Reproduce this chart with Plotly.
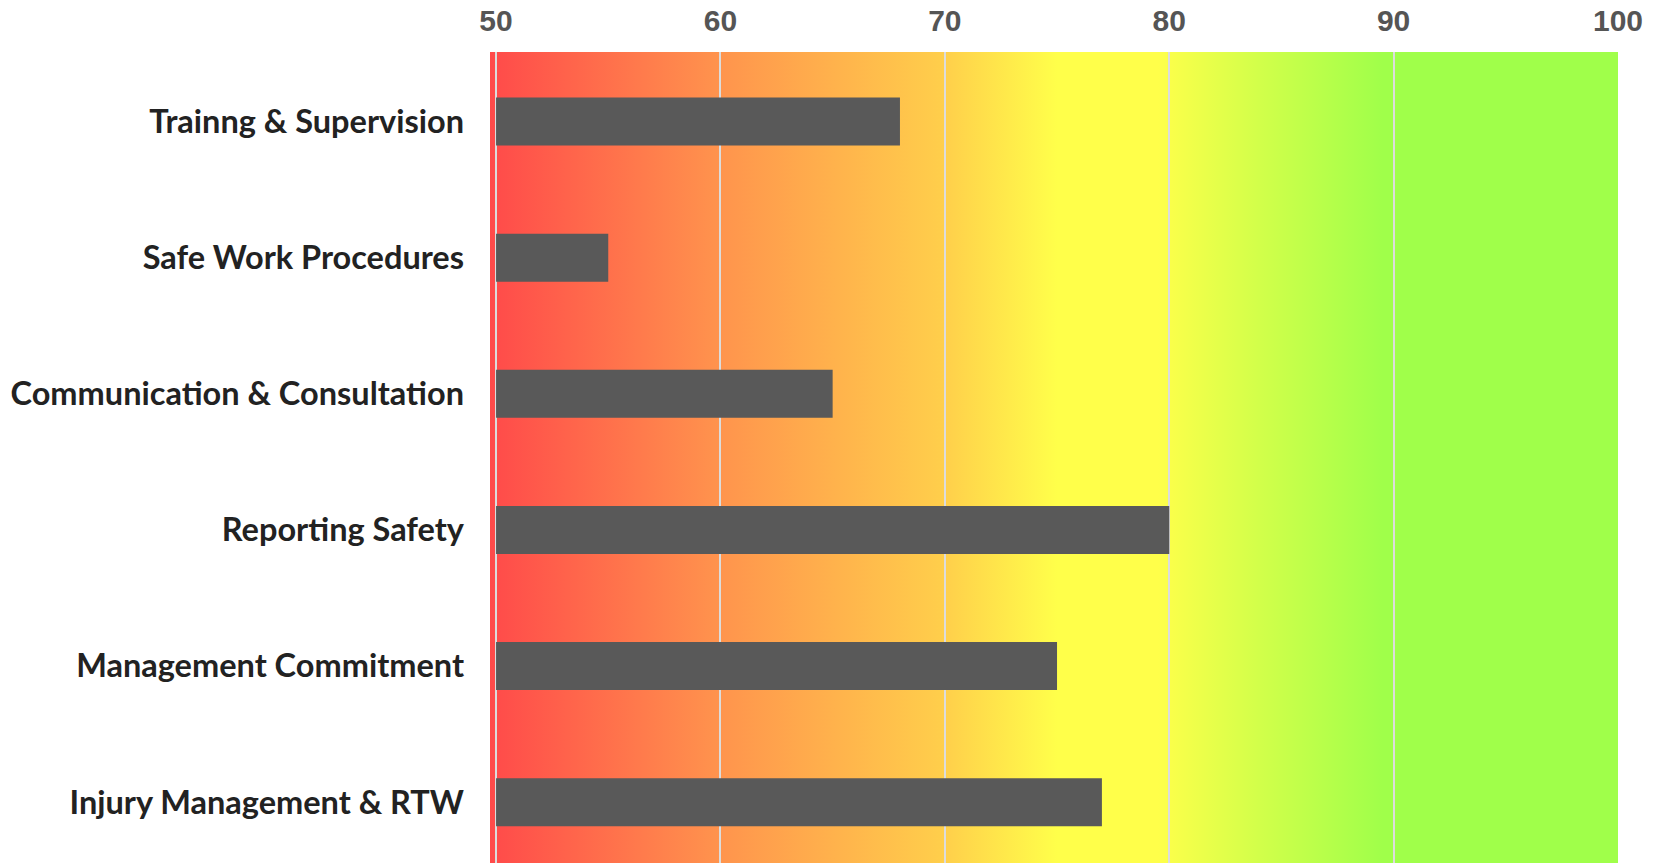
import base64
import plotly.graph_objects as go

# Scores per safety area (top to bottom)
categories = [
    "Trainng & Supervision",
    "Safe Work Procedures",
    "Communication & Consultation",
    "Reporting Safety",
    "Management Commitment",
    "Injury Management & RTW",
]
scores = [68, 55, 65, 80, 75, 77]

axis_min = 49.73
axis_max = 100
bar_base = 50
tick_values = [50, 60, 70, 80, 90, 100]

# Red -> yellow -> green band behind the bars (value, colour)
band_stops = [
    (49.73, "#ff4a4a"),
    (60.0, "#ff944d"),
    (70.0, "#ffcf4b"),
    (75.0, "#ffff4a"),
    (79.5, "#ffff4a"),
    (84.0, "#d2ff4a"),
    (89.5, "#a0ff4a"),
    (100.0, "#a0ff4a"),
]

span = axis_max - axis_min
stops_svg = "".join(
    f'<stop offset="{(v - axis_min) / span:.4f}" stop-color="{c}"/>' for v, c in band_stops
)
svg = (
    '<svg xmlns="http://www.w3.org/2000/svg" width="1000" height="100" preserveAspectRatio="none">'
    '<defs><linearGradient id="g" x1="0" y1="0" x2="1" y2="0">'
    f"{stops_svg}</linearGradient></defs>"
    '<rect x="0" y="0" width="1000" height="100" fill="url(#g)"/></svg>'
)
svg_uri = "data:image/svg+xml;base64," + base64.b64encode(svg.encode()).decode()

fig = go.Figure()
fig.add_trace(
    go.Bar(
        y=categories,
        x=[s - bar_base for s in scores],
        base=bar_base,
        orientation="h",
        marker=dict(color="#595959", line=dict(width=0)),
        width=0.353,
        hoverinfo="skip",
    )
)

fig.add_layout_image(
    dict(
        source=svg_uri,
        xref="x",
        yref="paper",
        x=axis_min,
        y=1,
        sizex=span,
        sizey=1,
        sizing="stretch",
        xanchor="left",
        yanchor="top",
        layer="below",
    )
)

fig.update_layout(
    width=1657,
    height=865,
    margin=dict(l=490, r=39, t=52, b=2),
    paper_bgcolor="white",
    plot_bgcolor="white",
    showlegend=False,
)

fig.update_xaxes(
    side="top",
    range=[axis_min, axis_max],
    tickvals=tick_values,
    ticktext=[str(v) for v in tick_values],
    showgrid=True,
    gridcolor="#dcdcdc",
    gridwidth=2,
    zeroline=False,
    showline=False,
    ticks="",
    ticklabelstandoff=14,
    tickfont=dict(family="Liberation Sans", size=30, color="#555555", weight="bold"),
)

fig.update_yaxes(
    range=[5.447, -0.511],
    showgrid=False,
    zeroline=False,
    showline=False,
    ticks="",
    ticklabelstandoff=25,
    tickfont=dict(family="Lato", size=32.5, color="#222222", weight="bold"),
)

fig.write_html("out.html")
